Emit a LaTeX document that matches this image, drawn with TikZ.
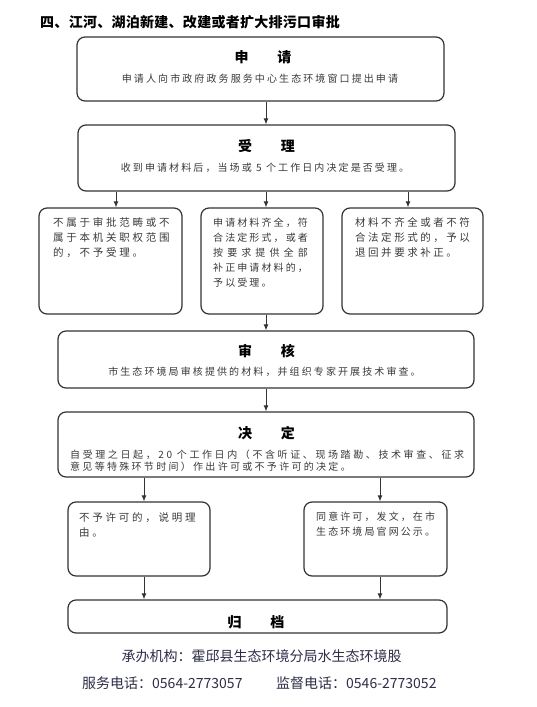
\documentclass[tikz,border=0pt]{standalone}
\usepackage{fontspec}
\setmainfont{Noto Sans CJK SC}
\usetikzlibrary{arrows.meta}
\definecolor{ln}{HTML}{333333}
\definecolor{tx}{HTML}{3A3A3A}
\definecolor{ft}{HTML}{2E2E48}
\newcommand{\lsp}[3]{{\fontsize{#1}{#1}\selectfont\addfontfeature{LetterSpace=#2}#3}}
\begin{document}
\begin{tikzpicture}[x=1pt,y=-1pt,
  box/.style={draw=ln,line width=1.2pt,rounded corners=8pt,inner sep=0pt},
  arr/.style={draw=ln,line width=1pt,-{Latex[length=6pt,width=5pt]}},
  head/.style={font=\fontsize{14}{14}\selectfont\bfseries,inner sep=0pt},
  body/.style={text=tx,inner sep=0pt,align=left},
  foot/.style={text=ft,inner sep=0pt,font=\fontsize{14}{14}\selectfont}]
\useasboundingbox (0,0) rectangle (536,707);
\fill[white] (0,0) rectangle (536,707);

% title
\node[inner sep=0pt,anchor=west,font=\fontsize{14}{14}\selectfont\bfseries] (title) at (40,22) {\addfontfeature{LetterSpace=2}四、江河、湖泊新建、改建或者扩大排污口审批};

% boxes
\node[box,minimum width=367pt,minimum height=64pt] (b1) at (260.5,69) {};
\node[box,minimum width=377pt,minimum height=66pt] (b2) at (266.5,158) {};
\node[box,minimum width=143pt,minimum height=106pt] (b3a) at (110.5,261) {};
\node[box,minimum width=122pt,minimum height=106pt] (b3b) at (262,261) {};
\node[box,minimum width=141pt,minimum height=106pt] (b3c) at (412.5,261) {};
\node[box,minimum width=416pt,minimum height=57pt] (b4) at (266,359.5) {};
\node[box,minimum width=416pt,minimum height=65pt] (b5) at (266,444.5) {};
\node[box,minimum width=142pt,minimum height=74pt] (b6a) at (139,539) {};
\node[box,minimum width=143pt,minimum height=74pt] (b6b) at (375.5,539) {};
\node[box,minimum width=379pt,minimum height=33pt] (b7) at (257.5,616.5) {};

% headings
\node[head] (h1) at (263,57) {申\hspace{29pt}请};
\node[head] (h2) at (266.5,146) {受\hspace{29pt}理};
\node[head] (h4) at (266.5,351) {审\hspace{29pt}核};
\node[head] (h5) at (266.5,433) {决\hspace{29pt}定};
\node[head] (h7) at (256,622) {归\hspace{29pt}档};

% body texts
\node[body] (t1) at (260,79) {\lsp{10}{21}{申请人向市政府政务服务中心生态环境窗口提出申请}};
\node[body] (t2) at (265,168) {\lsp{10}{21}{收到申请材料后，当场或 5 个工作日内决定是否受理。}};
\node[body] (t4) at (264.5,372) {\lsp{10}{21}{市生态环境局审核提供的材料，并组织专家开展技术审查。}};
\node[body,anchor=north west,font=\fontsize{10}{12}\selectfont] (t5) at (70,449.5)
  {\lsp{10}{26}{自受理之日起，20 个工作日内（不含听证、现场踏勘、技术审查、征求}\\
   \lsp{10}{23}{意见等特殊环节时间）作出许可或不予许可的决定。}};
\node[body,anchor=north west,font=\fontsize{10.5}{15}\selectfont] (t3a) at (53,217)
  {\lsp{10.5}{26}{不属于审批范畴或不}\\ \lsp{10.5}{26}{属于本机关职权范围}\\ \lsp{10.5}{26}{的，不予受理。}};
\node[body,anchor=north west,font=\fontsize{10}{15}\selectfont] (t3b) at (213,218)
  {\lsp{10}{21}{申请材料齐全，符}\\ \lsp{10}{21}{合法定形式，或者}\\ \lsp{10}{41}{按要求提供全部}\\ \lsp{10}{21}{补正申请材料的，}\\ \lsp{10}{21}{予以受理。}};
\node[body,anchor=north west,font=\fontsize{10.5}{15}\selectfont] (t3c) at (355,217)
  {\lsp{10.5}{24}{材料不齐全或者不符}\\ \lsp{10.5}{24}{合法定形式的，予以}\\ \lsp{10.5}{24}{退回并要求补正。}};
\node[body,anchor=north west,font=\fontsize{10.5}{15}\selectfont] (t6a) at (79,512)
  {\lsp{10.5}{26}{不予许可的，说明理}\\ \lsp{10.5}{26}{由。}};
\node[body,anchor=north west,font=\fontsize{10}{15}\selectfont] (t6b) at (316,512)
  {\lsp{10}{21}{同意许可，发文，在市}\\ \lsp{10}{21}{生态环境局官网公示。}};

% footer
\node[foot] (f1) at (261.5,656) {承办机构：霍邱县生态环境分局水生态环境股};
\node[foot,anchor=west] (f2) at (82,683) {服务电话：0564-2773057};
\node[foot,anchor=west] (f3) at (276,683) {监督电话：0546-2773052};

% arrow x positions
\coordinate (xa) at (116,0);
\coordinate (xb) at (266,0);
\coordinate (xc) at (408,0);
\coordinate (xd) at (144,0);
\coordinate (xe) at (380,0);

% connectors
\draw[arr] (b1.south -| xb) -- (b2.north -| xb);
\draw[arr] (b2.south -| xa) -- (b3a.north -| xa);
\draw[arr] (b2.south -| xb) -- (b3b.north -| xb);
\draw[arr] (b2.south -| xc) -- (b3c.north -| xc);
\draw[arr] (b3b.south -| xb) -- (b4.north -| xb);
\draw[arr] (b4.south -| xb) -- (b5.north -| xb);
\draw[arr] (b5.south -| xd) -- (b6a.north -| xd);
\draw[arr] (b5.south -| xe) -- (b6b.north -| xe);
\draw[arr] (b6a.south -| xd) -- (b7.north -| xd);
\draw[arr] (b6b.south -| xe) -- (b7.north -| xe);
\end{tikzpicture}
\end{document}
